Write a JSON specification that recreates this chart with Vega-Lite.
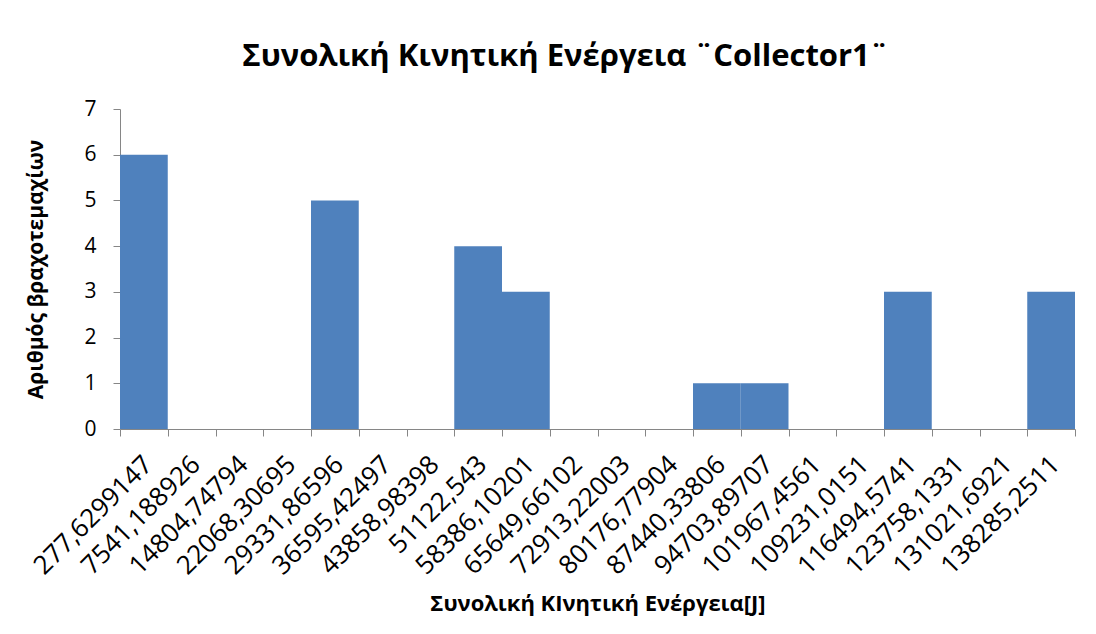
{
  "$schema": "https://vega.github.io/schema/vega-lite/v6.json",
  "autosize": {"type": "none"},
  "width": 955,
  "height": 320,
  "padding": {"left": 120, "top": 109, "right": 21, "bottom": 205},
  "background": "white",
  "title": {
    "text": "Συνολική Κινητική Ενέργεια ¨Collector1¨",
    "font": "Open Sans",
    "fontSize": 31,
    "fontWeight": "bold",
    "color": "black",
    "anchor": "middle",
    "dx": -32,
    "offset": 25
  },
  "data": {
    "values": [
      {"bin": "277,6299147", "count": 6},
      {"bin": "7541,188926", "count": 0},
      {"bin": "14804,74794", "count": 0},
      {"bin": "22068,30695", "count": 0},
      {"bin": "29331,86596", "count": 5},
      {"bin": "36595,42497", "count": 0},
      {"bin": "43858,98398", "count": 0},
      {"bin": "51122,543", "count": 4},
      {"bin": "58386,10201", "count": 3},
      {"bin": "65649,66102", "count": 0},
      {"bin": "72913,22003", "count": 0},
      {"bin": "80176,77904", "count": 0},
      {"bin": "87440,33806", "count": 1},
      {"bin": "94703,89707", "count": 1},
      {"bin": "101967,4561", "count": 0},
      {"bin": "109231,0151", "count": 0},
      {"bin": "116494,5741", "count": 3},
      {"bin": "123758,1331", "count": 0},
      {"bin": "131021,6921", "count": 0},
      {"bin": "138285,2511", "count": 3}
    ]
  },
  "mark": {"type": "bar", "color": "#4F81BD"},
  "encoding": {
    "x": {
      "field": "bin",
      "type": "nominal",
      "sort": null,
      "scale": {"paddingInner": 0, "paddingOuter": 0},
      "axis": {
        "title": "Συνολική ΚΙνητική Ενέργεια[J]",
        "titleFont": "Open Sans",
        "titleFontSize": 22,
        "titleFontWeight": "bold",
        "titleColor": "black",
        "titlePadding": 14,
        "labelFont": "Open Sans",
        "labelFontSize": 26,
        "labelColor": "black",
        "labelAngle": -45,
        "labelAlign": "right",
        "labelBaseline": "middle",
        "labelPadding": 24,
        "labelOffset": 4,
        "labelOverlap": false,
        "labelBound": false,
        "tickBand": "extent",
        "tickSize": 7,
        "tickColor": "#868686",
        "domainColor": "#868686",
        "grid": false
      }
    },
    "y": {
      "field": "count",
      "type": "quantitative",
      "scale": {"domain": [0, 7], "nice": false},
      "axis": {
        "title": "Αριθμός βραχοτεμαχίων",
        "titleFont": "Open Sans",
        "titleFontSize": 21,
        "titleFontWeight": "bold",
        "titleColor": "black",
        "titlePadding": 37,
        "values": [0, 1, 2, 3, 4, 5, 6, 7],
        "labelFont": "Open Sans",
        "labelFontSize": 21,
        "labelColor": "black",
        "labelPadding": 17,
        "tickSize": 7,
        "tickColor": "#868686",
        "domainColor": "#868686",
        "grid": false
      }
    }
  },
  "config": {"view": {"stroke": null}}
}
